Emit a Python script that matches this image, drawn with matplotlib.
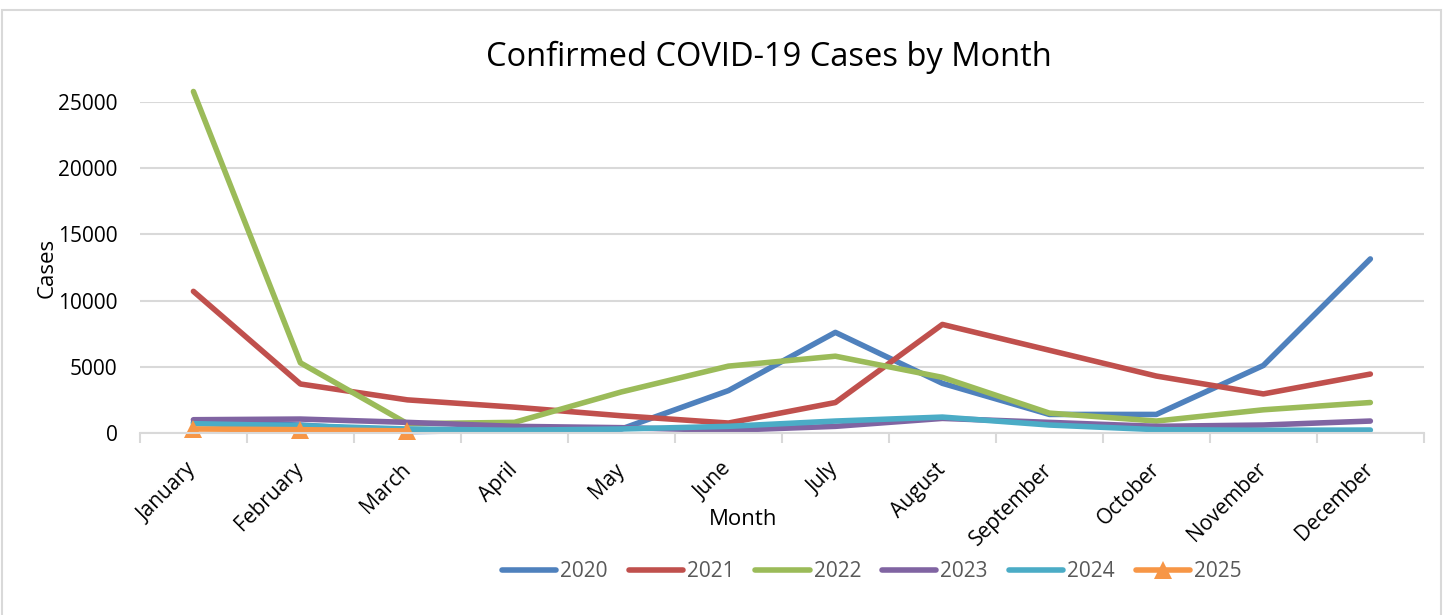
import matplotlib

matplotlib.use("Agg")
import matplotlib.pyplot as plt
from matplotlib.patches import Rectangle

months = ["January", "February", "March", "April", "May", "June", "July",
          "August", "September", "October", "November", "December"]

cases_2020 = [800, 600, 100, 200, 300, 3200, 7600, 3750, 1400, 1400, 5100, 13150]
cases_2021 = [10700, 3700, 2500, 1950, 1300, 750, 2300, 8200, 6250, 4300, 2950, 4450]
cases_2022 = [25800, 5300, 700, 800, 3100, 5050, 5800, 4200, 1500, 900, 1750, 2300]
cases_2023 = [1000, 1050, 800, 500, 400, 200, 500, 1100, 800, 500, 600, 900]
cases_2024 = [700, 550, 300, 200, 300, 500, 900, 1200, 600, 250, 200, 220]
cases_2025 = [300, 250, 150]

series = [
    ("2020", cases_2020, "#4F81BD", None),
    ("2021", cases_2021, "#C0504D", None),
    ("2022", cases_2022, "#9BBB59", None),
    ("2023", cases_2023, "#8064A2", None),
    ("2024", cases_2024, "#4BACC6", None),
    ("2025", cases_2025, "#F79646", "^"),
]

plt.rcParams["font.family"] = ["Open Sans", "DejaVu Sans"]

fig = plt.figure(figsize=(14.47, 6.15), dpi=100)
ax = fig.add_axes([0.0967, 0.296, 0.8873, 0.538])

grid_c = "#D9D9D9"
# outer chart border
fig.patches.append(Rectangle((0.0015, -0.01), 0.9945, 1.002 - 0.0081, transform=fig.transFigure,
                             fill=False, edgecolor=grid_c, linewidth=1.5))

for label, vals, color, marker in series:
    ax.plot(range(len(vals)), vals, color=color, linewidth=4.0, label=label,
            solid_capstyle="round", solid_joinstyle="round", clip_on=False,
            marker=marker, markersize=13, markeredgewidth=0)

ax.set_xlim(-0.5, 11.5)
ax.set_ylim(0, 25000)
ax.set_yticks(range(0, 25001, 5000))
ax.grid(axis="y", color=grid_c, linewidth=1.5)
ax.set_axisbelow(True)

ax.set_xticks(range(12))
ax.set_xticklabels(months, rotation=45, ha="right", va="center",
                   rotation_mode="anchor", fontsize=15)
ax.set_xticks([i - 0.5 for i in range(13)], minor=True)
ax.tick_params(axis="x", which="major", length=0, pad=24)
ax.tick_params(axis="x", which="minor", length=7, color=grid_c, width=1.5)
ax.tick_params(axis="y", length=0, labelsize=15, pad=16)

for s in ["top", "right", "left"]:
    ax.spines[s].set_visible(False)
ax.spines["bottom"].set_color(grid_c)
ax.spines["bottom"].set_linewidth(1.5)

ax.set_title("Confirmed COVID-19 Cases by Month", fontsize=23.5, pad=26, x=0.49)
ax.set_xlabel("Month", fontsize=16)
ax.xaxis.set_label_coords(0.47, -0.23)
ax.xaxis.label.set_va("top")
ax.set_ylabel("Cases", fontsize=16, labelpad=0)

leg = ax.legend(loc="center", bbox_to_anchor=(0.57, -0.42), ncol=6, frameon=False,
                fontsize=15, handlelength=2.6, columnspacing=1.0, handletextpad=0.2)
for t in leg.get_texts():
    t.set_color("#595959")

fig.savefig("out.png", dpi=100)
